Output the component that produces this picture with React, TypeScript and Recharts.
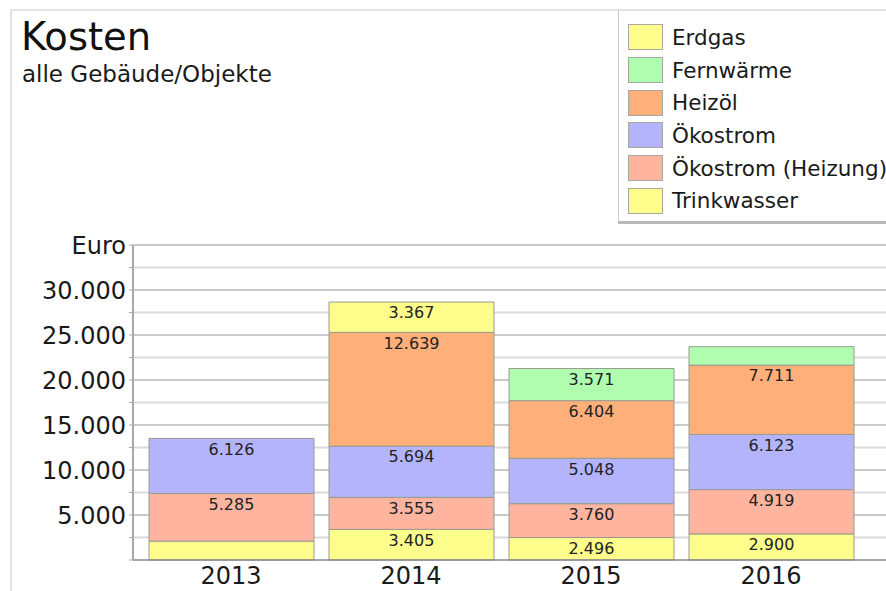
import { Bar, BarChart, CartesianGrid, LabelList, Legend, XAxis, YAxis } from "recharts";

// Jahre und Kosten je Energieträger in Euro (von unten nach oben gestapelt).
const years = ["2013", "2014", "2015", "2016"];
const trinkwasser = [2100, 3405, 2496, 2900];
const oekostromHeizung = [5285, 3555, 3760, 4919];
const oekostrom = [6126, 5694, 5048, 6123];
const heizoel = [0, 12639, 6404, 7711];
const fernwaerme = [0, 0, 3571, 2050];
const erdgas = [0, 3367, 0, 0];

const yTicks = [0, 2500, 5000, 7500, 10000, 12500, 15000, 17500, 20000, 22500, 25000, 27500, 30000, 32500, 35000];
const majorLines = [5000, 10000, 15000, 20000, 25000, 30000, 35000];
const minorLines = [2500, 7500, 12500, 17500, 22500, 27500, 32500];

const series = [
  { key: "trinkwasser", name: "Trinkwasser", color: "#fdfd8c", values: trinkwasser },
  { key: "oekostromHeizung", name: "Ökostrom (Heizung)", color: "#ffb4a0", values: oekostromHeizung },
  { key: "oekostrom", name: "Ökostrom", color: "#b4b4fc", values: oekostrom },
  { key: "heizoel", name: "Heizöl", color: "#ffb07a", values: heizoel },
  { key: "fernwaerme", name: "Fernwärme", color: "#b0fdb0", values: fernwaerme },
  { key: "erdgas", name: "Erdgas", color: "#fdfd8c", values: erdgas },
];

const rows = years.map((year, i) => {
  const row: Record<string, string | number> = { year };
  series.forEach((s) => (row[s.key] = s.values[i]));
  return row;
});

const font = "'DejaVu Sans', Verdana, sans-serif";

// 30000 -> "30.000"
const fmt = (v: number) => String(v).replace(/\B(?=(\d{3})+(?!\d))/g, ".");

const yTickLabel = (v: number) => {
  if (v === 35000) return "Euro";
  if (v === 0 || v % 5000 !== 0) return "";
  return fmt(v);
};

// kleine Segmente bekommen keine Beschriftung
const barLabel = (v: unknown) => (typeof v === "number" && v >= 2300 ? fmt(v) : "");

// Legende in umgekehrter Stapelreihenfolge, wie im Original
function renderLegend(props: any) {
  const payload = [...(props.payload ?? [])];
  const order = series.map((s) => s.name).reverse();
  payload.sort((a: any, b: any) => order.indexOf(a.value) - order.indexOf(b.value));
  return (
    <div
      style={{
        boxSizing: "border-box",
        width: 290,
        height: 214,
        padding: "10px 0 0 9px",
        background: "#fff",
        borderLeft: "1px solid #c8c8c8",
        borderTop: "1px solid #e0e0e0",
        borderBottom: "3px solid #b8b8b8",
        fontFamily: font,
        fontSize: 21.5,
        color: "#1a1a1a",
      }}
    >
      {payload.map((p: any) => (
        <div key={p.value} style={{ display: "flex", alignItems: "center", height: 32.7 }}>
          <span
            style={{
              display: "inline-block",
              boxSizing: "border-box",
              width: 35,
              height: 26,
              background: p.color,
              border: "1px solid #a8a8a0",
              marginRight: 9,
            }}
          />
          <span>{p.value}</span>
        </div>
      ))}
    </div>
  );
}

export default function App() {
  return (
    <div
      style={{
        position: "absolute",
        left: 0,
        top: 0,
        width: 886,
        height: 591,
        overflow: "hidden",
        background: "#fff",
      }}
    >
      <div
        style={{
          position: "absolute",
          left: 10,
          top: 9,
          right: 0,
          bottom: 0,
          borderLeft: "2px solid #e4e4e4",
          borderTop: "2px solid #e4e4e4",
        }}
      />
      <BarChart
        width={886}
        height={591}
        data={rows}
        margin={{ top: 245, right: 0, bottom: 0, left: 0 }}
        barSize={165}
      >
        <CartesianGrid horizontal vertical={false} horizontalValues={minorLines} stroke="#dadada" strokeWidth={2} />
        <CartesianGrid horizontal vertical={false} horizontalValues={majorLines} stroke="#b8b8b8" strokeWidth={1.5} />
        <XAxis
          dataKey="year"
          height={31}
          padding={{ left: 8, right: 25 }}
          tickLine={false}
          tickSize={0}
          tickMargin={7}
          axisLine={{ stroke: "#8a8a8a", strokeWidth: 1.5 }}
          tick={{ fontSize: 24, fill: "#1a1a1a", fontFamily: font }}
        />
        <YAxis
          width={133}
          domain={[0, 35000]}
          ticks={yTicks}
          interval={0}
          tickFormatter={yTickLabel}
          tickSize={4}
          tickMargin={3}
          axisLine={{ stroke: "#a8a8a8", strokeWidth: 2 }}
          tickLine={{ stroke: "#a8a8a8" }}
          tick={{ fontSize: 24, fill: "#1a1a1a", fontFamily: font }}
        />
        <Legend
          layout="vertical"
          align="center"
          verticalAlign="middle"
          wrapperStyle={{ left: 618, top: 10, width: 290 }}
          content={renderLegend}
        />
        {series.map((s) => (
          <Bar
            key={s.key}
            dataKey={s.key}
            name={s.name}
            stackId="kosten"
            fill={s.color}
            stroke="#9a9a90"
            strokeWidth={1}
            isAnimationActive={false}
          >
            <LabelList
              dataKey={s.key}
              position="insideTop"
              formatter={barLabel}
              style={{ fontSize: 16, fill: "#222", fontFamily: font }}
            />
          </Bar>
        ))}
      </BarChart>
      <svg
        width={886}
        height={100}
        style={{ position: "absolute", left: 0, top: 0, pointerEvents: "none" }}
      >
        <text x={21} y={50} fontSize={38.5} fill="#111" fontFamily={font}>
          Kosten
        </text>
        <text x={22} y={82} fontSize={23} fill="#1a1a1a" fontFamily={font}>
          alle Gebäude/Objekte
        </text>
      </svg>
    </div>
  );
}
